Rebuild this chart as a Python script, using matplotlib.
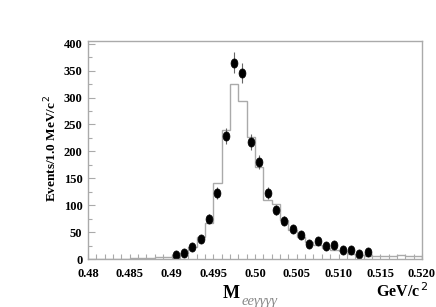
import numpy as np
import matplotlib
matplotlib.use("Agg")
import matplotlib.pyplot as plt
from matplotlib.ticker import MultipleLocator, FixedLocator

# Data: points (bin centres, counts)
pt_x = [0.4905, 0.4915, 0.4925, 0.4935, 0.4945, 0.4955, 0.4965, 0.4975, 0.4985,
        0.4995, 0.5005, 0.5015, 0.5025, 0.5035, 0.5045, 0.5055, 0.5065, 0.5075,
        0.5085, 0.5095, 0.5105, 0.5115, 0.5125, 0.5135]
pt_y = [7, 12, 22, 38, 75, 123, 228, 365, 346, 217, 180, 123, 91, 71, 56, 44,
        27, 33, 24, 26, 17, 16, 9, 13]

# Histogram (MC) bin edges and contents
h_edges = [0.480, 0.481, 0.482, 0.483, 0.484, 0.485, 0.486, 0.487, 0.488, 0.489,
           0.490, 0.491, 0.492, 0.493, 0.494, 0.495, 0.496, 0.497, 0.498, 0.499,
           0.500, 0.501, 0.502, 0.503, 0.504, 0.505, 0.506, 0.507, 0.508, 0.509,
           0.510, 0.511, 0.512, 0.513, 0.514, 0.515, 0.516, 0.517, 0.518, 0.519,
           0.520]
h_vals = [0, 0, 0, 0, 0, 1, 1, 1, 4, 4,
          7, 12, 23, 41, 67, 142, 239, 325, 293, 226,
          171, 110, 102, 72, 54, 40, 32, 26, 20, 17,
          14, 10, 7, 5, 5, 5, 5, 8, 5, 5]

x_ticks = [0.48, 0.485, 0.49, 0.495, 0.50, 0.505, 0.510, 0.515, 0.520]
x_tick_labels = ["0.48", "0.485", "0.49", "0.495", "0.50", "0.505", "0.510", "0.515", "0.520"]
y_ticks = [0, 50, 100, 150, 200, 250, 300, 350, 400]

serif = ["Liberation Serif", "DejaVu Serif"]
plt.rcParams['font.family'] = serif

fig = plt.figure(figsize=(4.36, 3.07), dpi=100)
ax = fig.add_axes([88/436, 48/307, 334/436, 218/307])

gray = "#aaaaaa"
ax.stairs(h_vals, h_edges, color=gray, linewidth=1.0)
ax.errorbar(pt_x, pt_y, yerr=np.sqrt(pt_y), fmt='none', ecolor='#666666',
            elinewidth=0.8, capsize=0)
t = np.linspace(0, 2 * np.pi, 40)
ellipse = np.column_stack([0.75 * np.cos(t), np.sin(t)])
ax.plot(pt_x, pt_y, linestyle='none', marker=ellipse, markersize=6.6,
        markerfacecolor='black', markeredgecolor='black', markeredgewidth=0.5)

ax.set_xlim(0.48, 0.52)
ax.set_ylim(0, 405)

ax.xaxis.set_major_locator(FixedLocator(x_ticks))
ax.set_xticklabels(x_tick_labels)
ax.xaxis.set_minor_locator(MultipleLocator(0.001))
ax.yaxis.set_major_locator(FixedLocator(y_ticks))
ax.yaxis.set_minor_locator(MultipleLocator(25))

for s in ax.spines.values():
    s.set_color(gray)
    s.set_linewidth(1.0)

ax.tick_params(which='both', direction='in', color=gray, top=False, right=False,
               width=0.8)
ax.tick_params(axis='x', which='both', length=3.5)
ax.tick_params(axis='y', which='major', length=5)
ax.tick_params(axis='y', which='minor', length=2.8)
ax.tick_params(axis='x', which='major', labelsize=9, pad=6.5)
ax.tick_params(axis='y', which='major', labelsize=9, pad=4)
for lab in ax.get_xticklabels() + ax.get_yticklabels():
    lab.set_fontweight('bold')

fig.text(51/436, 1 - 148/307, "Events/1.0 MeV/c$^{\\,2}$", rotation=90,
         ha='center', va='center', fontsize=9.5, fontweight='bold', family=serif)
fig.text(240/436, 1 - 294/307, "M", ha='right', va='center', fontsize=13,
         fontweight='bold', family=serif)
fig.text(242/436, 1 - 302/307, "ee\u03b3\u03b3\u03b3\u03b3", ha='left', va='center',
         fontsize=10.5, color='#888888', style='italic', fontweight='light',
         family=serif)
fig.text(429/436, 1 - 292/307, "GeV/c$^{\\,2}$", ha='right', va='center',
         fontsize=11.5, fontweight='bold', family=serif)

fig.savefig("out.png", dpi=100)
